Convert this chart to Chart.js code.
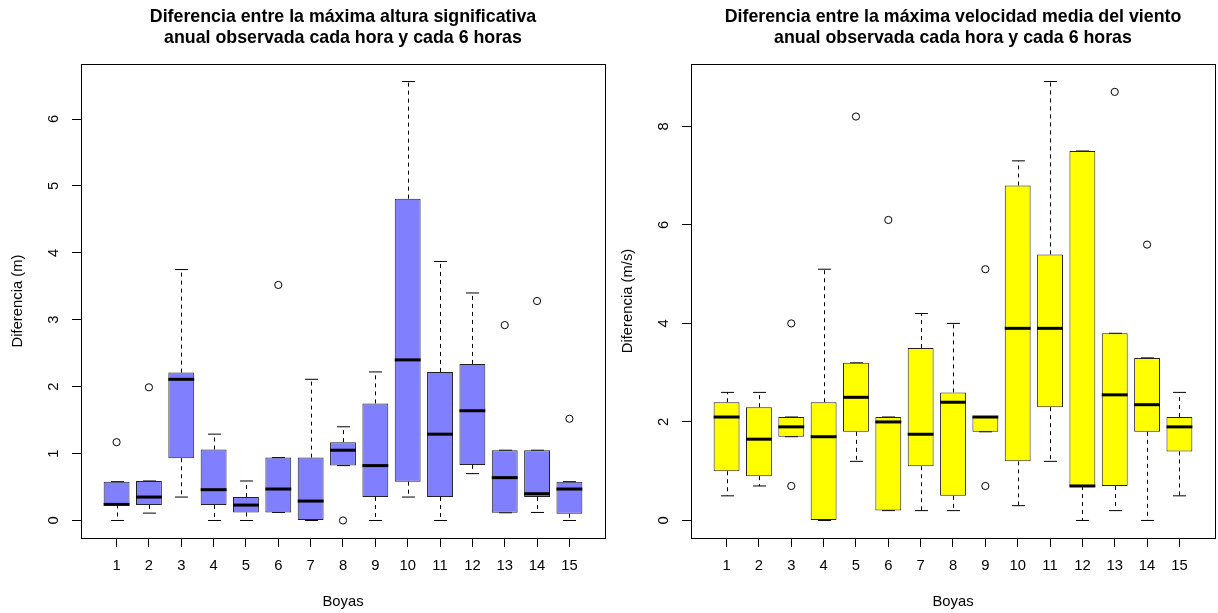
<!DOCTYPE html>
<html>
<head>
<meta charset="utf-8">
<script src="https://cdn.jsdelivr.net/npm/chart.js@4.4.1/dist/chart.umd.min.js"></script>
<style>
  html, body { margin: 0; padding: 0; background: #fff; overflow: hidden; width: 1218px; height: 613px; }
  .panel { position: absolute; top: 0; }
</style>
</head>
<body>
<div class="panel" style="left:0"><canvas id="olas" width="610" height="613"></canvas></div>
<div class="panel" style="left:610px"><canvas id="viento" width="610" height="613"></canvas></div>
<script>
const boyas = [1, 2, 3, 4, 5, 6, 7, 8, 9, 10, 11, 12, 13, 14, 15];

// altura significativa (m): whisker low, Q1, median, Q3, whisker high
const alturaMin = [0, 0.11, 0.35, 0, 0, 0.12, 0, 0.82, 0, 0.35, 0, 0.70, 0.115, 0.12, 0];
const alturaQ1  = [0.24, 0.23, 0.93, 0.23, 0.12, 0.12, 0, 0.82, 0.35, 0.58, 0.35, 0.83, 0.115, 0.35, 0.10];
const alturaMed = [0.24, 0.35, 2.11, 0.46, 0.23, 0.47, 0.29, 1.05, 0.82, 2.40, 1.29, 1.64, 0.64, 0.40, 0.47];
const alturaQ3  = [0.58, 0.59, 2.21, 1.06, 0.35, 0.94, 0.94, 1.17, 1.75, 4.81, 2.22, 2.34, 1.05, 1.05, 0.58];
const alturaMax = [0.58, 0.59, 3.75, 1.29, 0.59, 0.94, 2.11, 1.40, 2.22, 6.56, 3.87, 3.40, 1.05, 1.05, 0.58];
const alturaAtipicos = [[1, 1.17], [2, 1.99], [6, 3.52], [8, 0], [13, 2.92], [14, 3.28], [15, 1.52]];
const alturaTicks = [0, 1, 2, 3, 4, 5, 6];

// velocidad media del viento (m/s)
const vientoMin = [0.5, 0.7, 1.7, 0, 1.2, 0.2, 0.2, 0.2, 1.8, 0.3, 1.2, 0, 0.2, 0, 0.5];
const vientoQ1  = [1.0, 0.9, 1.7, 0, 1.8, 0.2, 1.1, 0.5, 1.8, 1.2, 2.3, 0.7, 0.7, 1.8, 1.4];
const vientoMed = [2.1, 1.65, 1.9, 1.7, 2.5, 2.0, 1.75, 2.4, 2.1, 3.9, 3.9, 0.7, 2.55, 2.35, 1.9];
const vientoQ3  = [2.4, 2.3, 2.1, 2.4, 3.2, 2.1, 3.5, 2.6, 2.1, 6.8, 5.4, 7.5, 3.8, 3.3, 2.1];
const vientoMax = [2.6, 2.6, 2.1, 5.1, 3.2, 2.1, 4.2, 4.0, 2.1, 7.3, 8.91, 7.5, 3.8, 3.3, 2.6];
const vientoAtipicos = [[3, 4.0], [3, 0.7], [5, 8.2], [6, 6.1], [9, 5.1], [9, 0.7], [13, 8.7], [14, 5.6]];
const vientoTicks = [0, 2, 4, 6, 8];

Chart.defaults.font.family = '"Liberation Sans", Arial, Helvetica, sans-serif';
Chart.defaults.font.size = 14.8;
Chart.defaults.color = '#000';

// whiskers, staples, medians and the frame round the plot
function cajas(lo, med, hi) {
  return {
    id: 'cajas',
    beforeDatasetsDraw(chart) {
      const { ctx, scales: { x, y } } = chart;
      const bars = chart.getDatasetMeta(0).data;
      ctx.save();
      ctx.strokeStyle = '#000';
      ctx.lineWidth = 1;
      boyas.forEach((b, i) => {
        const px = Math.round(x.getPixelForValue(b)) + 0.5;
        const half = bars[i].width / 4;
        const top = bars[i].y, bottom = bars[i].base;
        const yHi = y.getPixelForValue(hi[i]), yLo = y.getPixelForValue(lo[i]);
        ctx.setLineDash([4, 4]);
        ctx.beginPath();
        ctx.moveTo(px, Math.min(top, bottom)); ctx.lineTo(px, yHi);
        ctx.moveTo(px, Math.max(top, bottom)); ctx.lineTo(px, yLo);
        ctx.stroke();
        ctx.setLineDash([]);
        ctx.beginPath();
        ctx.moveTo(px - half, yHi); ctx.lineTo(px + half, yHi);
        ctx.moveTo(px - half, yLo); ctx.lineTo(px + half, yLo);
        ctx.stroke();
      });
      ctx.restore();
    },
    afterDatasetsDraw(chart) {
      const { ctx, scales: { y } } = chart;
      const bars = chart.getDatasetMeta(0).data;
      ctx.save();
      ctx.strokeStyle = '#000';
      ctx.lineWidth = 3;
      bars.forEach((bar, i) => {
        const py = y.getPixelForValue(med[i]);
        ctx.beginPath();
        ctx.moveTo(bar.x - bar.width / 2, py);
        ctx.lineTo(bar.x + bar.width / 2, py);
        ctx.stroke();
      });
      ctx.restore();
    },
    afterDraw(chart) {
      const { ctx, chartArea: a } = chart;
      ctx.save();
      ctx.strokeStyle = '#000';
      ctx.lineWidth = 1;
      ctx.strokeRect(Math.round(a.left) + 0.5, Math.round(a.top) + 0.5,
        Math.round(a.right - a.left), Math.round(a.bottom - a.top));
      ctx.restore();
    }
  };
}

function panel(id, titulo, ejeY, color, lo, q1, med, q3, hi, atipicos, yTicks, yMin, yMax) {
  return new Chart(document.getElementById(id), {
    type: 'bar',
    data: {
      datasets: [{
        data: boyas.map((b, i) => ({ x: b, y: [q1[i], q3[i]] })),
        backgroundColor: color,
        borderColor: '#222',
        borderWidth: 1,
        borderSkipped: false,
        barPercentage: 0.8,
        categoryPercentage: 1
      }, {
        type: 'scatter',
        data: atipicos.map(p => ({ x: p[0], y: p[1] })),
        pointRadius: 3.6,
        pointBorderWidth: 1,
        pointBorderColor: '#000',
        pointBackgroundColor: 'rgba(0,0,0,0)'
      }]
    },
    options: {
      responsive: false,
      animation: false,
      layout: { padding: { left: 0, right: 1, top: 0, bottom: 0 } },
      plugins: {
        legend: { display: false },
        tooltip: { enabled: false },
        title: {
          display: true,
          text: titulo,
          fullSize: false,
          color: '#000',
          font: { size: 17.8, weight: 'bold', lineHeight: 1.18 },
          padding: { top: 6.5, bottom: 15.5 }
        }
      },
      scales: {
        x: {
          type: 'linear',
          min: -0.1,
          max: 16.1,
          offset: false,
          afterBuildTicks: s => { s.ticks = boyas.map(v => ({ value: v })); },
          afterFit: s => { s.height = 75; },
          grid: { offset: false, drawOnChartArea: false, drawTicks: true, tickLength: 9, color: '#000' },
          border: { display: true, color: '#000' },
          ticks: { padding: 10, autoSkip: false, maxRotation: 0, color: '#000' },
          title: { display: true, text: 'Boyas', color: '#000', padding: { top: 0, bottom: 2.1 } }
        },
        y: {
          min: yMin,
          max: yMax,
          afterBuildTicks: s => { s.ticks = yTicks.map(v => ({ value: v })); },
          afterFit: s => { s.width = 81; },
          grid: { drawOnChartArea: false, drawTicks: true, tickLength: 9, color: '#000' },
          border: { display: true, color: '#000' },
          ticks: { minRotation: 90, maxRotation: 90, crossAlign: 'center', padding: 13.5, autoSkip: false, color: '#000' },
          title: { display: true, text: ejeY, color: '#000', padding: { top: 8.6, bottom: 0 } }
        }
      }
    },
    plugins: [cajas(lo, med, hi)]
  });
}

panel('olas',
  ['Diferencia entre la máxima altura significativa', 'anual observada cada hora y cada 6 horas'],
  'Diferencia (m)', '#8080FF',
  alturaMin, alturaQ1, alturaMed, alturaQ3, alturaMax, alturaAtipicos, alturaTicks, -0.262, 6.822);

panel('viento',
  ['Diferencia entre la máxima velocidad media del viento', 'anual observada cada hora y cada 6 horas'],
  'Diferencia (m/s)', '#FFFF00',
  vientoMin, vientoQ1, vientoMed, vientoQ3, vientoMax, vientoAtipicos, vientoTicks, -0.356, 9.266);
</script>
</body>
</html>
